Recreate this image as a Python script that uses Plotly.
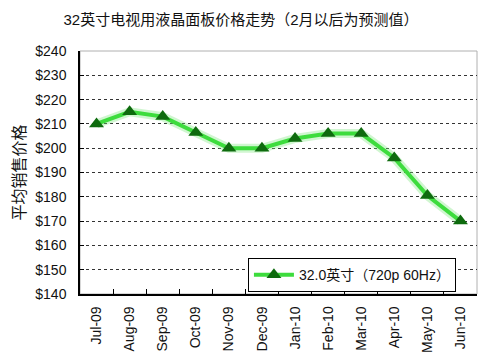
import plotly.graph_objects as go

months = ["Jul-09", "Aug-09", "Sep-09", "Oct-09", "Nov-09", "Dec-09",
          "Jan-10", "Feb-10", "Mar-10", "Apr-10", "May-10", "Jun-10"]
prices = [210, 215, 213, 206.5, 200, 200, 204, 206, 206, 196, 180.5, 170]
series_name = "32.0英寸（720p 60Hz）"
title_text = "32英寸电视用液晶面板价格走势（2月以后为预测值）"
y_title = "平均销售价格"

FONT = "Arial, Liberation Sans, Noto Sans CJK SC, sans-serif"

fig = go.Figure()
# glow underlay
fig.add_trace(go.Scatter(x=months, y=prices, mode="lines",
                         line=dict(color="rgba(120,230,120,0.35)", width=9),
                         showlegend=False, hoverinfo="skip"))
fig.add_trace(go.Scatter(x=months, y=prices, mode="lines+markers", name=series_name,
                         line=dict(color="#3ddc3d", width=4),
                         marker=dict(symbol="triangle-up", size=13, color="#0e6b0e",
                                     line=dict(width=0))))

fig.add_shape(type="rect", xref="paper", yref="paper", x0=0, x1=1, y0=0, y1=1,
              line=dict(color="#b0b0b0", width=1), layer="below")

fig.update_layout(
    width=500, height=364,
    margin=dict(l=80, r=23, t=51, b=70, autoexpand=False),
    paper_bgcolor="white", plot_bgcolor="white",
    font=dict(family=FONT, size=14, color="#111"),
    title=dict(text=title_text, x=0.482, xanchor="center", y=0.945, yanchor="middle",
               font=dict(size=15, family=FONT, color="#111")),
    showlegend=True,
    legend=dict(x=0.423, y=0.148, xanchor="left", yanchor="top",
                bgcolor="white", bordercolor="black", borderwidth=1,
                font=dict(size=14, family=FONT), itemwidth=40),
    xaxis=dict(type="category", tickson="boundaries", ticks="inside", ticklen=5,
               tickcolor="black", showline=True, linecolor="black", linewidth=1.5,
               showgrid=False, tickangle=-90, tickfont=dict(size=14),
               ticklabelstandoff=5,
               range=[-0.5, 11.5], automargin=False),
    yaxis=dict(range=[140, 240], dtick=10, tickprefix="$", ticks="inside", ticklen=4,
               tickcolor="black", showline=True, linecolor="black", linewidth=1.5,
               showgrid=True, gridcolor="#333", griddash="3px,3px", gridwidth=1,
               zeroline=False, tickfont=dict(size=14), automargin=False,
               ticklabelstandoff=9,
               title=dict(text=y_title, font=dict(size=16), standoff=6)),
)

fig.write_html("out.html", config={"displayModeBar": False},
               post_script="document.body.style.margin='0';")
